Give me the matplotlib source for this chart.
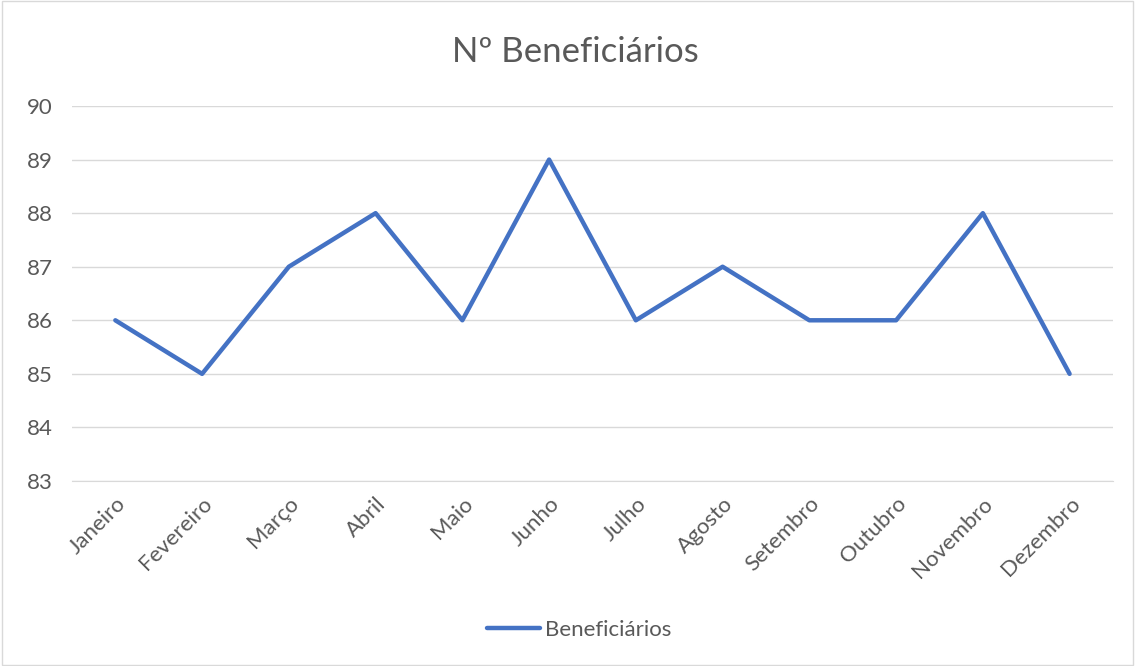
import matplotlib
matplotlib.use("Agg")
import matplotlib.pyplot as plt
from matplotlib.patches import Rectangle

months = ["Janeiro", "Fevereiro", "Março", "Abril", "Maio", "Junho", "Julho",
          "Agosto", "Setembro", "Outubro", "Novembro", "Dezembro"]
beneficiarios = [86, 85, 87, 88, 86, 89, 86, 87, 86, 86, 88, 85]
y_ticks = [83, 84, 85, 86, 87, 88, 89, 90]
title = "Nº Beneficiários"
series_name = "Beneficiários"

plt.rcParams['font.family'] = ['Lato', 'DejaVu Sans']
text_color = "#595959"
line_color = "#4472C4"
grid_color = "#D9D9D9"

fig = plt.figure(figsize=(11.35, 6.66), dpi=100)
fig.patches.append(Rectangle((0.002, 0.002), 0.996, 0.996, transform=fig.transFigure,
                             fill=False, edgecolor="#D9D9D9", linewidth=1))
ax = fig.add_axes([0.0634, 0.2778, 0.9172, 0.563])

x = list(range(len(months)))
ax.plot(x, beneficiarios, color=line_color, linewidth=3.2, solid_joinstyle='round',
        solid_capstyle='round', label=series_name)

ax.set_xlim(-0.5, len(months) - 0.5)
ax.set_ylim(y_ticks[0], y_ticks[-1])
ax.set_yticks(y_ticks)
ax.set_xticks(x)
ax.set_xticklabels(months, rotation=45, ha='right', rotation_mode='anchor')
for lbl in ax.get_xticklabels():
    lbl.set_transform(lbl.get_transform() + matplotlib.transforms.ScaledTranslation(0.06, 0, fig.dpi_scale_trans))
ax.yaxis.grid(True, color=grid_color, linewidth=1)
ax.set_axisbelow(True)
for s in ax.spines.values():
    s.set_visible(False)
ax.spines['bottom'].set_visible(True)
ax.spines['bottom'].set_color(grid_color)
ax.tick_params(axis='both', length=0, colors=text_color, labelsize=16)
ax.tick_params(axis='x', pad=9)
ax.tick_params(axis='y', pad=14)

fig.text(0.507, 0.922, title, ha='center', va='center', fontsize=25, color=text_color)

leg = fig.legend(loc='center', bbox_to_anchor=(0.51, 0.054), frameon=False,
                 fontsize=16, handlelength=2.4, handletextpad=0.2)
for t in leg.get_texts():
    t.set_color(text_color)

fig.savefig("out.png", dpi=100)
